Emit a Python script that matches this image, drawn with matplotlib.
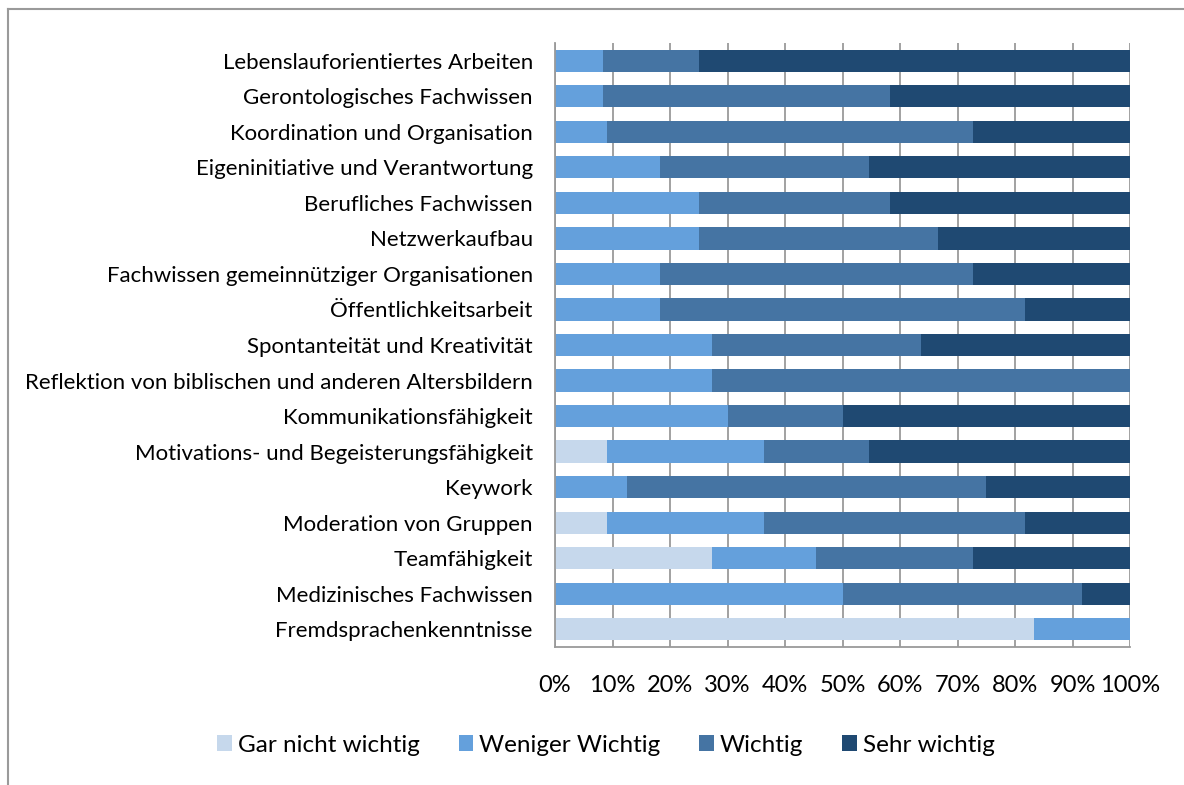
import numpy as np
import matplotlib
matplotlib.use("Agg")
import matplotlib.pyplot as plt
from matplotlib.lines import Line2D

plt.rcParams["font.family"] = ["Lato", "DejaVu Sans"]

categories = [
    "Lebenslauforientiertes Arbeiten",
    "Gerontologisches Fachwissen",
    "Koordination und Organisation",
    "Eigeninitiative und Verantwortung",
    "Berufliches Fachwissen",
    "Netzwerkaufbau",
    "Fachwissen gemeinnütziger Organisationen",
    "Öffentlichkeitsarbeit",
    "Spontanteität und Kreativität",
    "Reflektion von biblischen und anderen Altersbildern",
    "Kommunikationsfähigkeit",
    "Motivations- und Begeisterungsfähigkeit",
    "Keywork",
    "Moderation von Gruppen",
    "Teamfähigkeit",
    "Medizinisches Fachwissen",
    "Fremdsprachenkenntnisse",
]

# shares in percent, one list per answer
gar_nicht = [0, 0, 0, 0, 0, 0, 0, 0, 0, 0, 0, 9.09, 0, 9.09, 27.27, 0, 83.33]
weniger = [8.33, 8.33, 9.09, 18.18, 25, 25, 18.18, 18.18, 27.27, 27.27, 30,
           27.27, 12.5, 27.27, 18.18, 50, 16.67]
wichtig = [16.67, 50, 63.64, 36.36, 33.33, 41.67, 54.55, 63.64, 36.36, 72.73, 20,
           18.18, 62.5, 45.45, 27.27, 41.67, 0]
sehr = [75, 41.67, 27.27, 45.45, 41.67, 33.33, 27.27, 18.18, 36.36, 0, 50,
        45.45, 25, 18.18, 27.27, 8.33, 0]

series_names = ["Gar nicht wichtig", "Weniger Wichtig", "Wichtig", "Sehr wichtig"]
colors = ["#C6D8EC", "#64A0DC", "#4574A3", "#1F4972"]

W, H = 1184, 785
fig = plt.figure(figsize=(W / 100, H / 100), dpi=100)
ax = fig.add_axes([555 / W, 1 - 647 / H, (1130 - 555) / W, (647 - 43) / H])

y = np.arange(len(categories))
left = np.zeros(len(categories))
for vals, name, col in zip([gar_nicht, weniger, wichtig, sehr], series_names, colors):
    vals = np.array(vals)
    ax.barh(y, vals, left=left, height=0.625, color=col, label=name, zorder=2)
    left += vals

ax.set_xlim(0, 100)
ax.set_ylim(len(categories) - 0.5, -0.5)
ax.set_yticks(y)
ax.set_yticklabels(categories, fontsize=16)
ax.set_xticks(np.arange(0, 101, 10))
ax.set_xticklabels([f"{v}%" for v in range(0, 101, 10)], fontsize=17)
ax.tick_params(axis="both", length=0)
ax.tick_params(axis="y", pad=16)
ax.tick_params(axis="x", pad=20)
ax.grid(axis="x", color="#9a9a9a", linewidth=1.3, zorder=0)
ax.set_axisbelow(True)
for s in ["top", "right"]:
    ax.spines[s].set_visible(False)
for s in ["left", "bottom"]:
    ax.spines[s].set_color("#9a9a9a")
    ax.spines[s].set_linewidth(1.3)

fig.legend(loc="center", bbox_to_anchor=(606 / W, 1 - 745 / H), ncol=4,
           frameon=False, fontsize=17.5, handlelength=0.6, handleheight=0.6,
           handletextpad=0.25, columnspacing=1.6)

# outer chart border
fig.add_artist(Line2D([8 / W, 1], [1 - 9 / H, 1 - 9 / H], color="#9a9a9a", lw=1.5))
fig.add_artist(Line2D([8 / W, 8 / W], [1 - 9 / H, 0.001], color="#9a9a9a", lw=1.5))

fig.savefig("out.png", dpi=100)
